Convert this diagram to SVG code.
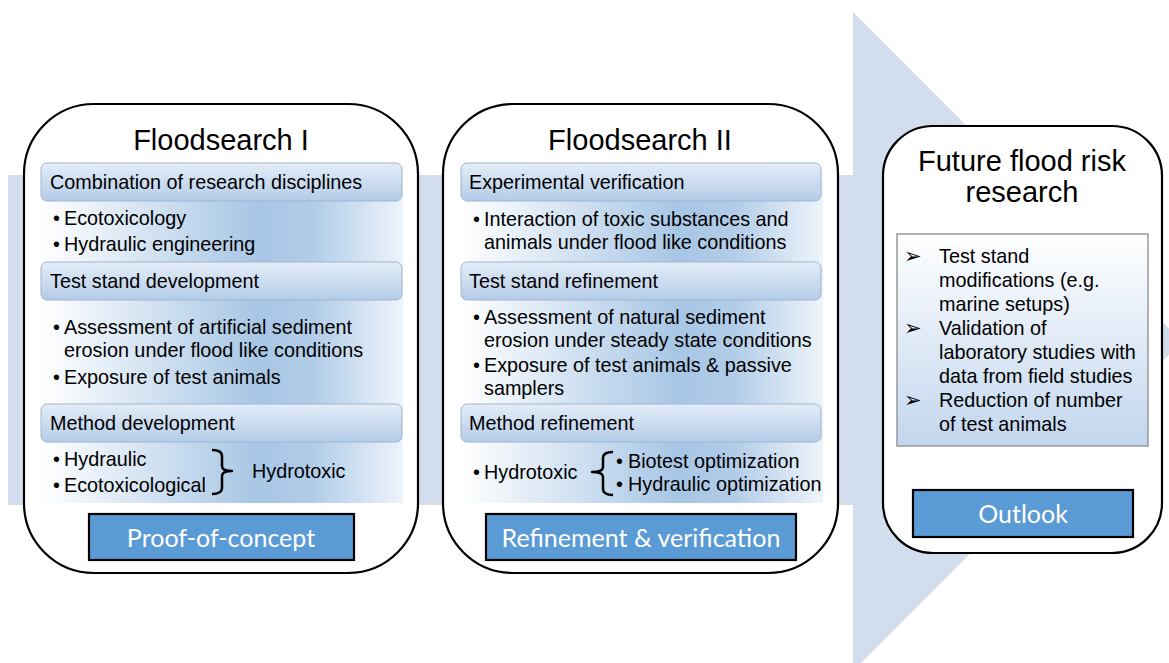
<svg xmlns="http://www.w3.org/2000/svg" width="1169" height="663" viewBox="0 0 1169 663">
  <defs>
    <linearGradient id="hdrGrad" x1="0" y1="0" x2="0" y2="1">
      <stop offset="0" stop-color="#e4edf8"/>
      <stop offset="1" stop-color="#b4cce8"/>
    </linearGradient>
    <linearGradient id="bandGrad" x1="0" y1="0" x2="1" y2="0">
      <stop offset="0" stop-color="#ffffff"/>
      <stop offset="0.6" stop-color="#a7c6e5"/>
      <stop offset="0.75" stop-color="#b1cce8"/>
      <stop offset="1" stop-color="#eef4fb"/>
    </linearGradient>
    <linearGradient id="listGrad" x1="0" y1="0" x2="0" y2="1">
      <stop offset="0" stop-color="#ffffff"/>
      <stop offset="1" stop-color="#c2d6ee"/>
    </linearGradient>
    <style>
      .card { fill: #ffffff; stroke: #000000; stroke-width: 2.2; }
      .hdr { fill: url(#hdrGrad); stroke: #9fb5d0; stroke-width: 1; }
      .band { fill: url(#bandGrad); }
      .title { font-family: "Liberation Sans", Arial, sans-serif; font-size: 29px; fill: #000; text-anchor: middle; }
      .txt { font-family: "Liberation Sans", Arial, sans-serif; font-size: 19.8px; fill: #000; }
      .stage { fill: #5b9bd5; stroke: #000000; stroke-width: 2.2; }
      .stageTxt { font-family: Lato, "Open Sans", sans-serif; font-size: 25px; fill: #ffffff; text-anchor: middle; }
      .brace { fill: none; stroke: #000; stroke-width: 2.5; stroke-linejoin: round; }
      .arrowBullet { font-family: "DejaVu Sans", sans-serif; font-size: 21px; fill: #000; }
    </style>
  </defs>

  <!-- big background arrow -->
  <g id="background-arrow">
    <polygon points="8,175 853,175 853,12 1182,341.5 853,671 853,505 8,505" fill="#d2ddee"/>
  </g>

  <!-- Floodsearch I -->
  <g id="floodsearch-1">
    <rect class="card" x="24" y="104" width="394" height="469" rx="70" ry="70"/>
    <text class="title" x="221" y="150">Floodsearch I</text>
    <rect class="band" x="41" y="170" width="362" height="333"/>
    <rect class="hdr" x="41" y="163" width="361" height="38" rx="6"/>
    <text class="txt" x="50" y="189">Combination of research disciplines</text>
    <text class="txt" x="53" y="225">•</text><text class="txt" x="64" y="225">Ecotoxicology</text>
    <text class="txt" x="53" y="251">•</text><text class="txt" x="64" y="251">Hydraulic engineering</text>
    <rect class="hdr" x="41" y="262" width="361" height="38" rx="6"/>
    <text class="txt" x="50" y="288">Test stand development</text>
    <text class="txt" x="53" y="334">•</text><text class="txt" x="64" y="334">Assessment of artificial sediment</text>
    <text class="txt" x="64" y="357">erosion under flood like conditions</text>
    <text class="txt" x="53" y="384">•</text><text class="txt" x="64" y="384">Exposure of test animals</text>
    <rect class="hdr" x="41" y="404" width="361" height="38" rx="6"/>
    <text class="txt" x="50" y="430">Method development</text>
    <text class="txt" x="53" y="466">•</text><text class="txt" x="64" y="466">Hydraulic</text>
    <text class="txt" x="53" y="492">•</text><text class="txt" x="64" y="492">Ecotoxicological</text>
    <path class="brace" d="M212,450 Q222,450 222,456 L222,466 Q222,471 232,471 Q222,471 222,476 L222,488 Q222,494 212,494"/>
    <text class="txt" x="252" y="478">Hydrotoxic</text>
    <rect class="stage" x="89" y="514" width="265" height="46"/>
    <text class="stageTxt" x="221" y="547">Proof-of-concept</text>
  </g>

  <!-- Floodsearch II -->
  <g id="floodsearch-2">
    <rect class="card" x="443" y="104" width="395" height="469" rx="70" ry="70"/>
    <text class="title" x="640" y="150">Floodsearch II</text>
    <rect class="band" x="461" y="170" width="362" height="333"/>
    <rect class="hdr" x="461" y="163" width="360" height="38" rx="6"/>
    <text class="txt" x="469" y="189">Experimental verification</text>
    <text class="txt" x="473" y="226">•</text><text class="txt" x="484" y="226">Interaction of toxic substances and</text>
    <text class="txt" x="484" y="249">animals under flood like conditions</text>
    <rect class="hdr" x="461" y="262" width="360" height="38" rx="6"/>
    <text class="txt" x="469" y="288">Test stand refinement</text>
    <text class="txt" x="473" y="324">•</text><text class="txt" x="484" y="324">Assessment of natural sediment</text>
    <text class="txt" x="484" y="347">erosion under steady state conditions</text>
    <text class="txt" x="473" y="372">•</text><text class="txt" x="484" y="372">Exposure of test animals &amp; passive</text>
    <text class="txt" x="484" y="395">samplers</text>
    <rect class="hdr" x="461" y="404" width="360" height="38" rx="6"/>
    <text class="txt" x="469" y="430">Method refinement</text>
    <text class="txt" x="473" y="479">•</text><text class="txt" x="484" y="479">Hydrotoxic</text>
    <path class="brace" d="M613,452 Q603,452 603,458 L603,467 Q603,472 592,472 Q603,472 603,477 L603,489 Q603,495 613,495"/>
    <text class="txt" x="616" y="468">•</text><text class="txt" x="628" y="468">Biotest optimization</text>
    <text class="txt" x="616" y="491">•</text><text class="txt" x="628" y="491">Hydraulic optimization</text>
    <rect class="stage" x="486" y="514" width="310" height="46"/>
    <text class="stageTxt" x="641" y="547">Refinement &amp; verification</text>
  </g>

  <!-- Future flood risk research -->
  <g id="future-research">
    <rect class="card" x="883" y="126" width="279" height="427" rx="50" ry="50"/>
    <text class="title" x="1022" y="171">Future flood risk</text>
    <text class="title" x="1022" y="202">research</text>
    <rect x="897" y="234" width="251" height="212" fill="url(#listGrad)" stroke="#999999" stroke-width="1.5"/>
    <text class="arrowBullet" x="904" y="263">➢</text>
    <text class="txt" x="939" y="263">Test stand</text>
    <text class="txt" x="939" y="287">modifications (e.g.</text>
    <text class="txt" x="939" y="311">marine setups)</text>
    <text class="arrowBullet" x="904" y="335">➢</text>
    <text class="txt" x="939" y="335">Validation of</text>
    <text class="txt" x="939" y="359">laboratory studies with</text>
    <text class="txt" x="939" y="383">data from field studies</text>
    <text class="arrowBullet" x="904" y="407">➢</text>
    <text class="txt" x="939" y="407">Reduction of number</text>
    <text class="txt" x="939" y="431">of test animals</text>
    <rect class="stage" x="913" y="490" width="220" height="47"/>
    <text class="stageTxt" x="1023" y="523">Outlook</text>
  </g>
</svg>
